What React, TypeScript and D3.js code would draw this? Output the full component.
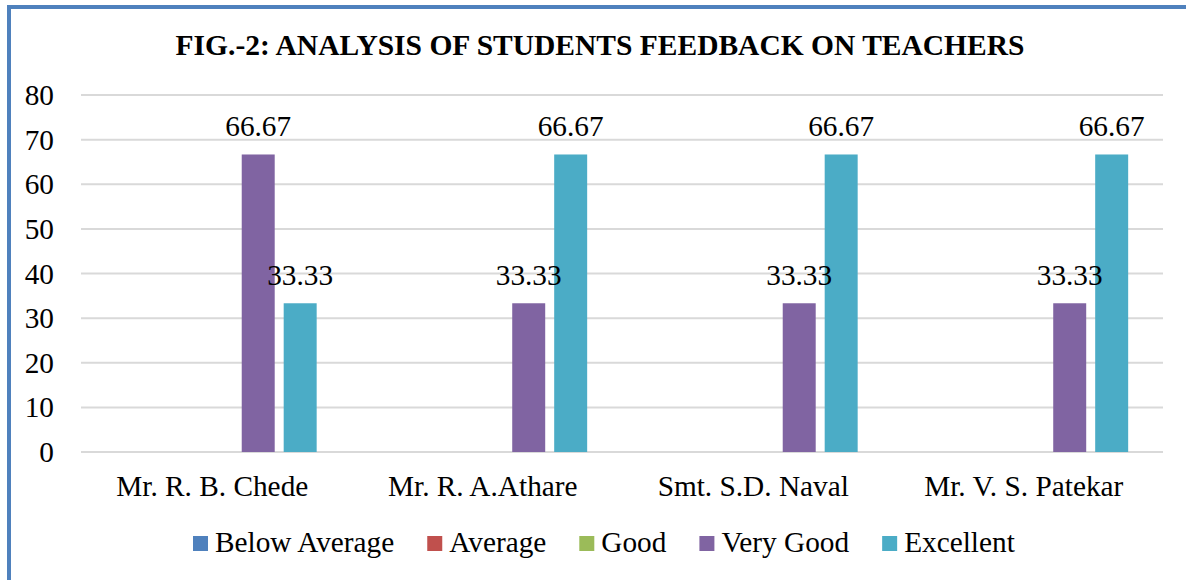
import React, { useEffect, useRef } from "react";
import * as d3 from "d3";

const categories = ["Mr. R. B. Chede", "Mr. R. A.Athare", "Smt. S.D. Naval", "Mr. V. S. Patekar"];
const seriesNames = ["Below Average", "Average", "Good", "Very Good", "Excellent"];
const seriesColors = ["#4F81BD", "#C0504D", "#9BBB59", "#8064A2", "#4BACC6"];
const belowAverage = [0, 0, 0, 0];
const average = [0, 0, 0, 0];
const good = [0, 0, 0, 0];
const veryGood = [66.67, 33.33, 33.33, 33.33];
const excellent = [33.33, 66.67, 66.67, 66.67];
const yTicks = [0, 10, 20, 30, 40, 50, 60, 70, 80];
const title = "FIG.-2: ANALYSIS OF STUDENTS FEEDBACK ON TEACHERS";

const W = 1186;
const H = 580;
const FONT = "Liberation Serif";
const FS = 29.3;

export default function App() {
  const ref = useRef<SVGSVGElement | null>(null);

  useEffect(() => {
    const svg = d3.select(ref.current);
    svg.selectAll("*").remove();
    const values = [belowAverage, average, good, veryGood, excellent];

    const left = 81, right = 1163, top = 95, bottom = 452;
    const y = d3.scaleLinear().domain([0, 80]).range([bottom, top]);
    const x0 = d3.scaleBand<string>().domain(categories).range([left, right]).paddingInner(0).paddingOuter(0);
    const x1 = d3.scaleBand<string>().domain(seriesNames).range([0, x0.bandwidth()]).paddingInner(0.214).paddingOuter(0.83);

    svg.append("rect").attr("x", 0).attr("y", 0).attr("width", W).attr("height", H).attr("fill", "#fff");

    // border
    svg.append("line").attr("x1", 9).attr("x2", W).attr("y1", 7).attr("y2", 7)
      .attr("stroke", "#4F81BD").attr("stroke-width", 4);
    svg.append("line").attr("x1", 9).attr("x2", 9).attr("y1", 5).attr("y2", H)
      .attr("stroke", "#4F81BD").attr("stroke-width", 4);

    // title
    svg.append("text").attr("x", 600).attr("y", 55).attr("text-anchor", "middle")
      .attr("font-family", FONT).attr("font-weight", "bold").attr("font-size", 29.5).attr("fill", "#000")
      .text(title);

    // gridlines + tick labels
    const g = svg.append("g");
    yTicks.forEach((t) => {
      g.append("line").attr("x1", left).attr("x2", right).attr("y1", y(t)).attr("y2", y(t))
        .attr("stroke", "#D9D9D9").attr("stroke-width", 2);
      g.append("text").attr("x", 54).attr("y", y(t) + 10).attr("text-anchor", "end")
        .attr("font-family", FONT).attr("font-size", FS).attr("fill", "#000").text(String(t));
    });

    // bars
    seriesNames.forEach((s, si) => {
      categories.forEach((c, ci) => {
        const v = values[si][ci];
        if (v <= 0) return;
        const bx = (x0(c) as number) + (x1(s) as number);
        svg.append("rect").attr("x", bx).attr("y", y(v)).attr("width", x1.bandwidth())
          .attr("height", y(0) - y(v)).attr("fill", seriesColors[si]);
      });
    });
    // labels
    seriesNames.forEach((s, si) => {
      categories.forEach((c, ci) => {
        const v = values[si][ci];
        if (v <= 0) return;
        const bx = (x0(c) as number) + (x1(s) as number) + x1.bandwidth() / 2;
        svg.append("text").attr("x", bx).attr("y", y(v) - 18).attr("text-anchor", "middle")
          .attr("font-family", FONT).attr("font-size", FS).attr("fill", "#000").text(v.toFixed(2));
      });
    });

    // category labels
    categories.forEach((c) => {
      svg.append("text").attr("x", (x0(c) as number) + x0.bandwidth() / 2 - 4).attr("y", 496)
        .attr("text-anchor", "middle").attr("font-family", FONT).attr("font-size", FS).attr("fill", "#000").text(c);
    });

    // legend
    const lg = svg.append("g");
    let cx = 0;
    const items: { x: number; name: string; color: string }[] = [];
    seriesNames.forEach((s, i) => {
      const t = lg.append("text").attr("font-family", FONT).attr("font-size", FS).text(s);
      const w = (t.node() as SVGTextElement).getComputedTextLength();
      t.remove();
      items.push({ x: cx, name: s, color: seriesColors[i] });
      cx += 15 + 7 + w + (i < seriesNames.length - 1 ? 33 : 0);
    });
    const startX = 193;
    items.forEach((it) => {
      lg.append("rect").attr("x", startX + it.x).attr("y", 536).attr("width", 15).attr("height", 15).attr("fill", it.color);
      lg.append("text").attr("x", startX + it.x + 22).attr("y", 552).attr("font-family", FONT)
        .attr("font-size", FS).attr("fill", "#000").text(it.name);
    });
  }, []);

  return (
    <svg ref={ref} width={W} height={H} style={{ display: "block", position: "absolute", left: 0, top: 0 }} />
  );
}
